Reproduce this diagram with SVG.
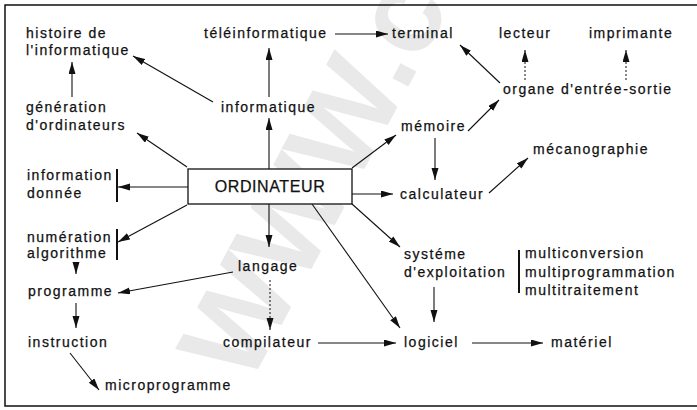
<svg xmlns="http://www.w3.org/2000/svg" width="697" height="410" viewBox="0 0 697 410">
<style>
.t{font-family:"Liberation Sans",Arial,sans-serif;font-size:14px;letter-spacing:1.5px;fill:#111;stroke:#111;stroke-width:0.25}
.c{stroke:#111;stroke-width:1.1;fill:none;marker-end:url(#ah)}
.d{stroke:#111;stroke-width:1;fill:none;stroke-dasharray:2 2;marker-end:url(#ah)}
.b{stroke:#111;stroke-width:2;fill:none}
.wm{font-family:"Liberation Sans",Arial,sans-serif;font-size:120px;font-weight:bold;fill:#e9e9e9}
</style>
<defs>
<marker id="ah" markerUnits="userSpaceOnUse" markerWidth="13" markerHeight="8" refX="12" refY="3.5" orient="auto">
<path d="M0,0 L12,3.5 L0,7 Z" fill="#111"/>
</marker>
</defs>
<rect width="697" height="410" fill="#fff"/>
<text class="wm" transform="translate(248,388) rotate(-62)">WWW.c</text>
<path d="M697,5 H5 V406 H697" stroke="#111" stroke-width="1.5" fill="none"/>

<g id="connectors">
<line class="c" x1="213" y1="102" x2="133" y2="56"/>
<line class="c" x1="72" y1="97" x2="72" y2="62"/>
<line class="c" x1="269" y1="97" x2="269" y2="48"/>
<line class="c" x1="335" y1="34" x2="388" y2="34"/>
<line class="c" x1="500" y1="83" x2="460" y2="45"/>
<line class="d" x1="525" y1="80" x2="525" y2="50"/>
<line class="d" x1="626" y1="80" x2="626" y2="50"/>
<line class="c" x1="468" y1="131" x2="499" y2="100"/>
<line class="c" x1="269" y1="169" x2="269" y2="118"/>
<line class="c" x1="187" y1="167" x2="137" y2="133"/>
<line class="c" x1="352" y1="168" x2="396" y2="135"/>
<line class="c" x1="435" y1="138" x2="435" y2="180"/>
<line class="c" x1="352" y1="194" x2="393" y2="194"/>
<line class="c" x1="489" y1="193" x2="528" y2="158"/>
<line class="c" x1="188" y1="187" x2="118" y2="187"/>
<line class="c" x1="187" y1="205" x2="118" y2="242"/>
<line class="c" x1="352" y1="204" x2="400" y2="247"/>
<line class="c" x1="269" y1="204" x2="269" y2="247"/>
<line class="c" x1="312" y1="204" x2="400" y2="328"/>
<line class="c" x1="434" y1="287" x2="434" y2="322"/>
<line class="d" x1="270" y1="280" x2="270" y2="330"/>
<line class="c" x1="233" y1="272" x2="118" y2="293"/>
<line class="c" x1="76" y1="262" x2="76" y2="274"/>
<line class="c" x1="76" y1="303" x2="76" y2="328"/>
<line class="c" x1="70" y1="353" x2="99" y2="390"/>
<line class="c" x1="318" y1="343" x2="396" y2="343"/>
<line class="c" x1="472" y1="343" x2="543" y2="343"/>
<line class="b" x1="117" y1="169" x2="117" y2="202"/>
<line class="b" x1="117" y1="229" x2="117" y2="260"/>
<line class="b" x1="519" y1="250" x2="519" y2="293"/>
</g>

<g id="ordinateur">
<rect x="188" y="169" width="164" height="35" fill="#fff" stroke="#111" stroke-width="1.3"/>
<text class="t" x="270" y="192" text-anchor="middle" style="font-size:16px;letter-spacing:0.6px">ORDINATEUR</text>
</g>
<g id="histoire"><text class="t" x="26" y="38">histoire de</text><text class="t" x="26" y="55">l'informatique</text></g>
<g id="teleinformatique"><text class="t" x="204" y="38">téléinformatique</text></g>
<g id="terminal"><text class="t" x="392" y="38">terminal</text></g>
<g id="lecteur"><text class="t" x="499" y="38">lecteur</text></g>
<g id="imprimante"><text class="t" x="589" y="38">imprimante</text></g>
<g id="organe"><text class="t" x="503" y="94">organe d'entrée-sortie</text></g>
<g id="generation"><text class="t" x="26" y="112">génération</text><text class="t" x="26" y="130">d'ordinateurs</text></g>
<g id="informatique"><text class="t" x="221" y="112">informatique</text></g>
<g id="memoire"><text class="t" x="401" y="131">mémoire</text></g>
<g id="mecanographie"><text class="t" x="533" y="154">mécanographie</text></g>
<g id="calculateur"><text class="t" x="400" y="199">calculateur</text></g>
<g id="information"><text class="t" x="27" y="180">information</text><text class="t" x="27" y="198">donnée</text></g>
<g id="numeration"><text class="t" x="27" y="242">numération</text><text class="t" x="27" y="258">algorithme</text></g>
<g id="systeme"><text class="t" x="404" y="259">systéme</text><text class="t" x="404" y="277">d'exploitation</text></g>
<g id="multi"><text class="t" x="525" y="258">multiconversion</text><text class="t" x="525" y="277">multiprogrammation</text><text class="t" x="525" y="295">multitraitement</text></g>
<g id="langage"><text class="t" x="238" y="271">langage</text></g>
<g id="programme"><text class="t" x="28" y="296">programme</text></g>
<g id="instruction"><text class="t" x="28" y="347">instruction</text></g>
<g id="compilateur"><text class="t" x="223" y="347">compilateur</text></g>
<g id="logiciel"><text class="t" x="404" y="347">logiciel</text></g>
<g id="materiel"><text class="t" x="551" y="347">matériel</text></g>
<g id="microprogramme"><text class="t" x="105" y="390">microprogramme</text></g>
</svg>
